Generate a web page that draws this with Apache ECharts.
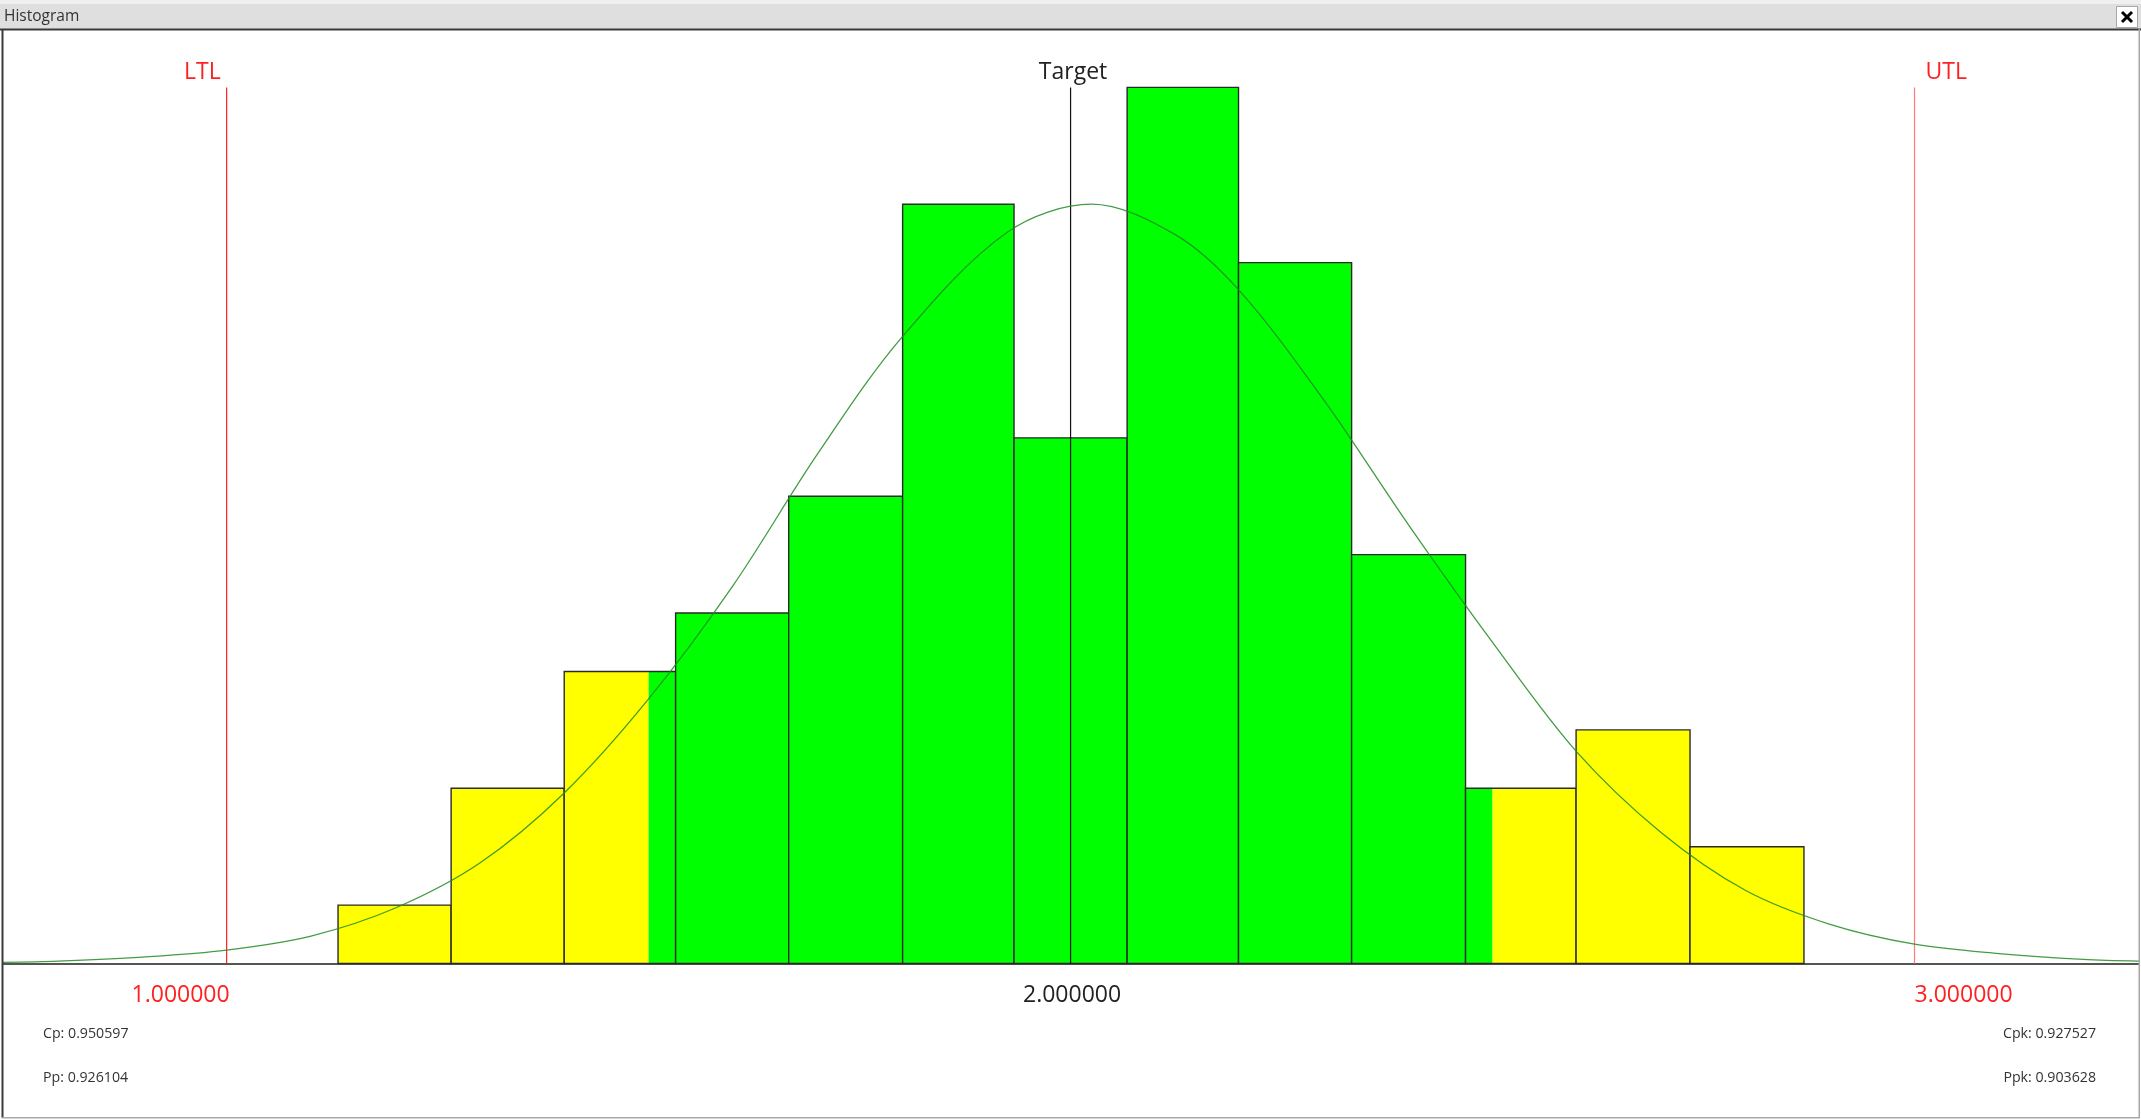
<!DOCTYPE html>
<html lang="en">
<head>
	<meta charset="UTF-8">
	<title>Histogram</title>
	<style>
		html,body{margin:0;padding:0;background:#fff;}
	</style>
</head>
<body>
	<div id="hist" style="width:2141px;height:1120px;"></div>
	<script src="https://cdn.jsdelivr.net/npm/echarts@6/dist/echarts.min.js"></script>
	<script>
		// bins
		var binEdges = [1.132,1.266,1.400,1.532,1.666,1.801,1.933,2.067,2.199,2.333,2.468,2.599,2.734,2.869];
		var binCounts = [1,3,5,6,8,13,9,15,12,7,3,4,2];
		// green between these two values, yellow outside
		var greenFrom = 1.5;
		var greenTo = 2.5;

		// fitted curve, points
		var curveX = [0.735,0.8,0.9,1.0,1.1,1.2,1.3,1.4,1.5,1.6,1.7,1.8,1.925,2.025,2.125,2.2,2.3,2.4,2.5,2.6,2.7,2.8,2.9,3.0,3.1,3.2,3.266];
		var curveY = [0.02,0.04,0.11,0.23,0.47,0.95,1.72,2.92,4.53,6.47,8.72,10.72,12.52,13.00,12.47,11.52,9.65,7.52,5.50,3.62,2.24,1.25,0.67,0.33,0.17,0.07,0.04];

		// spec lines
		var specValues = [1,2,3];
		var specNames = ['LTL','Target','UTL'];
		var specTickLabels = ['1.000000','2.000000','3.000000'];
		var specTop = 15;

		var statsLeft = ['Cp: 0.950597','Pp: 0.926104'];
		var statsRight = ['Cpk: 0.927527','Ppk: 0.903628'];
		var windowTitle = 'Histogram';

		var FONT = '"Open Sans","Noto Sans",sans-serif';

		var binData = [];
		for (var i = 0; i < binCounts.length; i++) {
			binData.push([binEdges[i],binEdges[i+1],binCounts[i]]);
		}
		var curveData = [];
		for (var j = 0; j < curveX.length; j++) {
			curveData.push([curveX[j],curveY[j]]);
		}
		var specData = [];
		for (var k = 0; k < specValues.length; k++) {
			specData.push([specValues[k],specTop,k]);
		}

		function fillRect(api,from,to,h,color){
			var p0 = api.coord([from,h]);
			var p1 = api.coord([to,0]);
			return {type:'rect',shape:{x:p0[0],y:p0[1],width:p1[0]-p0[0],height:p1[1]-p0[1]},style:{fill:color}};
		}

		function renderBin(params,api){
			var a = api.value(0), b = api.value(1), h = api.value(2);
			var kids = [];
			// yellow / green parts, then the outline on top
			if (a < greenFrom) kids.push(fillRect(api,a,Math.min(b,greenFrom),h,'#ffff00'));
			if (b > greenFrom && a < greenTo) kids.push(fillRect(api,Math.max(a,greenFrom),Math.min(b,greenTo),h,'#00ff00'));
			if (b > greenTo) kids.push(fillRect(api,Math.max(a,greenTo),b,h,'#ffff00'));
			var p0 = api.coord([a,h]);
			var p1 = api.coord([b,0]);
			kids.push({
				type:'rect',
				shape:{x:p0[0],y:p0[1],width:p1[0]-p0[0],height:p1[1]-p0[1]},
				style:{fill:'none',stroke:'#2a2a2a',lineWidth:1.4}
			});
			return {type:'group',children:kids};
		}

		function renderSpec(params,api){
			var idx = api.value(2);
			var top = api.coord([api.value(0),api.value(1)]);
			var bot = api.coord([api.value(0),0]);
			var lineColor = ['#ff2020','#111111','#ff7a7a'][idx];
			var textColor = ['#ff2020','#222222','#ff2020'][idx];
			var dx = [-6,2.5,11][idx];
			var align = ['right','center','left'][idx];
			return {
				type:'group',
				children:[
					{type:'line',shape:{x1:top[0],y1:top[1],x2:bot[0],y2:bot[1]},style:{stroke:lineColor,lineWidth:1.2}},
					{type:'text',x:top[0]+dx,y:top[1]-14.5,style:{text:specNames[idx],fill:textColor,font:'23px '+FONT,textAlign:align,textVerticalAlign:'middle'}}
				]
			};
		}

		var chart = echarts.init(document.getElementById('hist'));
		var option = {
			animation:false,
			backgroundColor:'#ffffff',
			grid:{left:3,right:2,top:29,bottom:156.5},
			xAxis:{
				type:'value',
				min:0.735,
				max:3.266,
				splitLine:{show:false},
				axisTick:{show:false},
				axisLine:{lineStyle:{color:'#555555',width:2}},
				axisLabel:{
					customValues:specValues,
					alignMinLabel:'right',
					alignMaxLabel:'left',
					margin:20,
					padding:[0,-3,0,0],
					fontSize:23,
					fontFamily:FONT,
					color:function(value){ return Number(value) === 2 ? '#222222' : '#ff2020'; },
					formatter:function(value){ return specTickLabels[specValues.indexOf(Number(value))]; }
				}
			},
			yAxis:{type:'value',min:0,max:16,show:false,splitLine:{show:false}},
			series:[
				{type:'custom',name:'bins',renderItem:renderBin,encode:{x:[0,1],y:2},data:binData,z:2,silent:true},
				{type:'custom',name:'spec',renderItem:renderSpec,encode:{x:0,y:1},data:specData,z:3,silent:true},
				{type:'line',name:'curve',data:curveData,smooth:0.33,showSymbol:false,z:4,silent:true,lineStyle:{color:'#228b22',width:1.3,opacity:0.85}}
			],
			graphic:[
				// window title bar
				{type:'rect',shape:{x:0,y:0,width:2141,height:29},style:{fill:'#dfdfdf'},z:10},
				{type:'rect',shape:{x:0,y:0,width:2141,height:4},style:{fill:'#f0f0f0'},z:10},
				{type:'text',x:4,y:17,style:{text:windowTitle,fill:'#333333',font:'15.5px '+FONT,textVerticalAlign:'middle'},z:11},
				{type:'rect',shape:{x:2116.5,y:6.5,width:21,height:21},style:{fill:'#ffffff',stroke:'#a8a8a8',lineWidth:1},z:11},
				{type:'line',shape:{x1:2122,y1:12,x2:2132,y2:22},style:{stroke:'#000000',lineWidth:3},z:12},
				{type:'line',shape:{x1:2132,y1:12,x2:2122,y2:22},style:{stroke:'#000000',lineWidth:3},z:12},
				// frame
				{type:'rect',shape:{x:0,y:28.5,width:2141,height:2},style:{fill:'#3a3a3a'},z:11},
				{type:'rect',shape:{x:1.5,y:29,width:2,height:1089},style:{fill:'#3a3a3a'},z:11},
				{type:'rect',shape:{x:2138.5,y:29,width:1.5,height:1089},style:{fill:'#a8a8a8'},z:11},
				{type:'rect',shape:{x:2,y:1117,width:2138,height:1.5},style:{fill:'#a8a8a8'},z:11},
				// capability numbers
				{type:'text',x:43,y:1034,style:{text:statsLeft[0],fill:'#333333',font:'14.2px '+FONT,textVerticalAlign:'middle'},z:11},
				{type:'text',x:43,y:1078,style:{text:statsLeft[1],fill:'#333333',font:'14.2px '+FONT,textVerticalAlign:'middle'},z:11},
				{type:'text',x:2096,y:1034,style:{text:statsRight[0],fill:'#333333',font:'14.2px '+FONT,textAlign:'right',textVerticalAlign:'middle'},z:11},
				{type:'text',x:2096,y:1078,style:{text:statsRight[1],fill:'#333333',font:'14.2px '+FONT,textAlign:'right',textVerticalAlign:'middle'},z:11}
			]
		};
		chart.setOption(option);
	</script>
</body>
</html>
